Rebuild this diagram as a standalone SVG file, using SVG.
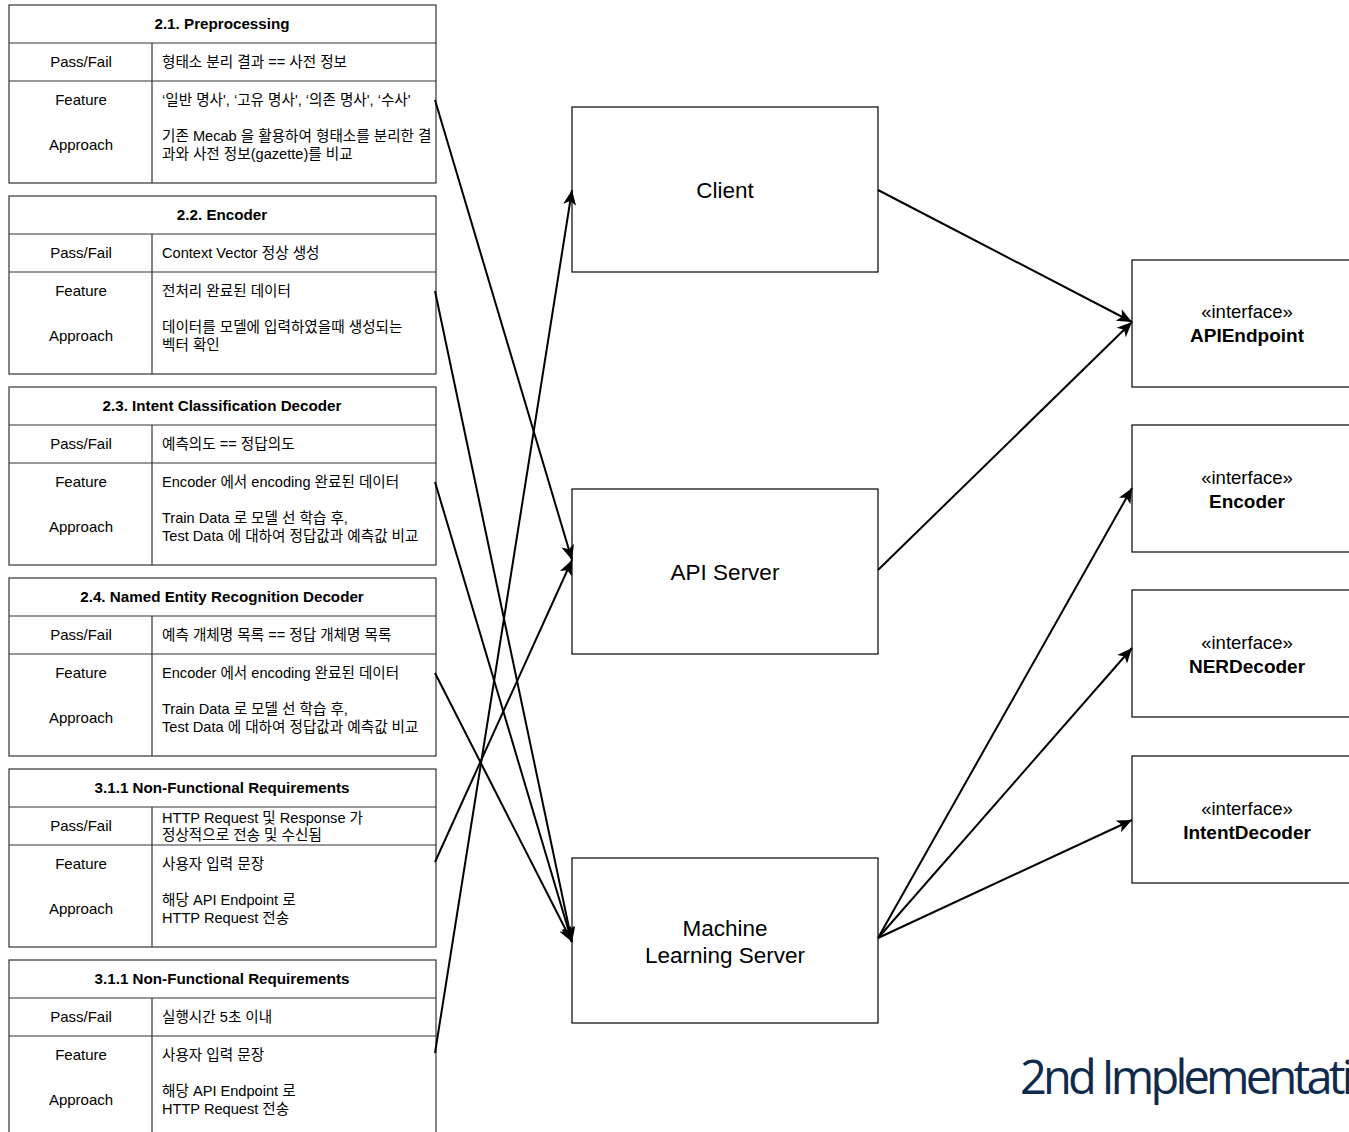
<svg xmlns="http://www.w3.org/2000/svg" width="1349" height="1132" viewBox="0 0 1349 1132">
<style>
text{font-family:"Liberation Sans","Noto Sans CJK KR",sans-serif;fill:#000}
.t{font-size:14.6px}
.h{font-size:15.2px;font-weight:bold;text-anchor:middle}
.l{font-size:15px;text-anchor:middle}
.cell{fill:#fff;stroke:#333;stroke-width:1.2}
.box{fill:#fff;stroke:#000;stroke-width:1.2}
.bt{font-size:22.5px;text-anchor:middle}
.it{font-size:18.5px;text-anchor:middle}
.ib{font-size:19px;font-weight:bold;text-anchor:middle}
.conn line{stroke:#000;stroke-width:2;marker-end:url(#arr)}
.title{font-family:"Open Sans","Noto Sans",sans-serif;font-size:47px;fill:#102a4e;letter-spacing:-3.8px}
</style>
<defs>
<marker id="arr" markerUnits="userSpaceOnUse" markerWidth="17" markerHeight="15" refX="15" refY="6.5" orient="auto" viewBox="0 0 17 13">
<path d="M0,0 L15,6.5 L0,13 L3.8,6.5 Z" fill="#000"/>
</marker>
<g id="tbl">
<rect class="cell" x="9" y="5" width="427" height="178"/>
<line x1="9" y1="43" x2="436" y2="43" stroke="#333" stroke-width="1.2"/>
<line x1="9" y1="81" x2="436" y2="81" stroke="#333" stroke-width="1.2"/>
<line x1="152" y1="43" x2="152" y2="183" stroke="#333" stroke-width="1.2"/>
<text class="l" x="81" y="67">Pass/Fail</text>
<text class="l" x="81" y="105">Feature</text>
<text class="l" x="81" y="150">Approach</text>
</g>
</defs>

<g id="t1">
<use href="#tbl"/>
<text class="h" x="222" y="29">2.1. Preprocessing</text>
<text class="t" x="162" y="67">형태소 분리 결과 == 사전 정보</text>
<text class="t" x="162" y="105">‘일반 명사', ‘고유 명사', ‘의존 명사', ‘수사'</text>
<text class="t" x="162" y="141">기존 Mecab 을 활용하여 형태소를 분리한 결</text>
<text class="t" x="162" y="159">과와 사전 정보(gazette)를 비교</text>
</g>
<g id="t2" transform="translate(0,191)">
<use href="#tbl"/>
<text class="h" x="222" y="29">2.2. Encoder</text>
<text class="t" x="162" y="67">Context Vector 정상 생성</text>
<text class="t" x="162" y="105">전처리 완료된 데이터</text>
<text class="t" x="162" y="141">데이터를 모델에 입력하였을때 생성되는</text>
<text class="t" x="162" y="159">벡터 확인</text>
</g>
<g id="t3" transform="translate(0,382)">
<use href="#tbl"/>
<text class="h" x="222" y="29">2.3. Intent Classification Decoder</text>
<text class="t" x="162" y="67">예측의도 == 정답의도</text>
<text class="t" x="162" y="105">Encoder 에서 encoding 완료된 데이터</text>
<text class="t" x="162" y="141">Train Data 로 모델 선 학습 후,</text>
<text class="t" x="162" y="159">Test Data 에 대하여 정답값과 예측값 비교</text>
</g>
<g id="t4" transform="translate(0,573)">
<use href="#tbl"/>
<text class="h" x="222" y="29">2.4. Named Entity Recognition Decoder</text>
<text class="t" x="162" y="67">예측 개체명 목록 == 정답 개체명 목록</text>
<text class="t" x="162" y="105">Encoder 에서 encoding 완료된 데이터</text>
<text class="t" x="162" y="141">Train Data 로 모델 선 학습 후,</text>
<text class="t" x="162" y="159">Test Data 에 대하여 정답값과 예측값 비교</text>
</g>
<g id="t5" transform="translate(0,764)">
<use href="#tbl"/>
<text class="h" x="222" y="29">3.1.1 Non-Functional Requirements</text>
<text class="t" x="162" y="59">HTTP Request 및 Response 가</text>
<text class="t" x="162" y="76">정상적으로 전송 및 수신됨</text>
<text class="t" x="162" y="105">사용자 입력 문장</text>
<text class="t" x="162" y="141">해당 API Endpoint 로</text>
<text class="t" x="162" y="159">HTTP Request 전송</text>
</g>
<g id="t6" transform="translate(0,955)">
<use href="#tbl"/>
<text class="h" x="222" y="29">3.1.1 Non-Functional Requirements</text>
<text class="t" x="162" y="67">실행시간 5초 이내</text>
<text class="t" x="162" y="105">사용자 입력 문장</text>
<text class="t" x="162" y="141">해당 API Endpoint 로</text>
<text class="t" x="162" y="159">HTTP Request 전송</text>
</g>

<g id="client">
<rect class="box" x="572" y="107" width="306" height="165"/>
<text class="bt" x="725" y="198">Client</text>
</g>
<g id="apiserver">
<rect class="box" x="572" y="489" width="306" height="165"/>
<text class="bt" x="725" y="580">API Server</text>
</g>
<g id="mlserver">
<rect class="box" x="572" y="858" width="306" height="165"/>
<text class="bt" x="725" y="936">Machine</text>
<text class="bt" x="725" y="963">Learning Server</text>
</g>

<g id="apiendpoint">
<rect class="box" x="1132" y="260" width="232" height="127"/>
<text class="it" x="1247" y="318">«interface»</text>
<text class="ib" x="1247" y="342">APIEndpoint</text>
</g>
<g id="encoder">
<rect class="box" x="1132" y="425" width="232" height="127"/>
<text class="it" x="1247" y="484">«interface»</text>
<text class="ib" x="1247" y="508">Encoder</text>
</g>
<g id="nerdecoder">
<rect class="box" x="1132" y="590" width="232" height="127"/>
<text class="it" x="1247" y="649">«interface»</text>
<text class="ib" x="1247" y="673">NERDecoder</text>
</g>
<g id="intentdecoder">
<rect class="box" x="1132" y="756" width="232" height="127"/>
<text class="it" x="1247" y="815">«interface»</text>
<text class="ib" x="1247" y="839">IntentDecoder</text>
</g>

<g class="conn" id="connectors">
<line x1="435" y1="100" x2="572" y2="560"/>
<line x1="435" y1="291" x2="572" y2="942"/>
<line x1="435" y1="482" x2="572" y2="942"/>
<line x1="435" y1="673" x2="572" y2="942"/>
<line x1="435" y1="862" x2="572" y2="560"/>
<line x1="435" y1="1053" x2="572" y2="190"/>
<line x1="878" y1="190" x2="1132" y2="322"/>
<line x1="878" y1="570" x2="1132" y2="322"/>
<line x1="878" y1="938" x2="1132" y2="488"/>
<line x1="878" y1="938" x2="1132" y2="648"/>
<line x1="878" y1="938" x2="1132" y2="820"/>
</g>

<text class="title" x="1020" y="1094">2nd Implementation</text>
</svg>
